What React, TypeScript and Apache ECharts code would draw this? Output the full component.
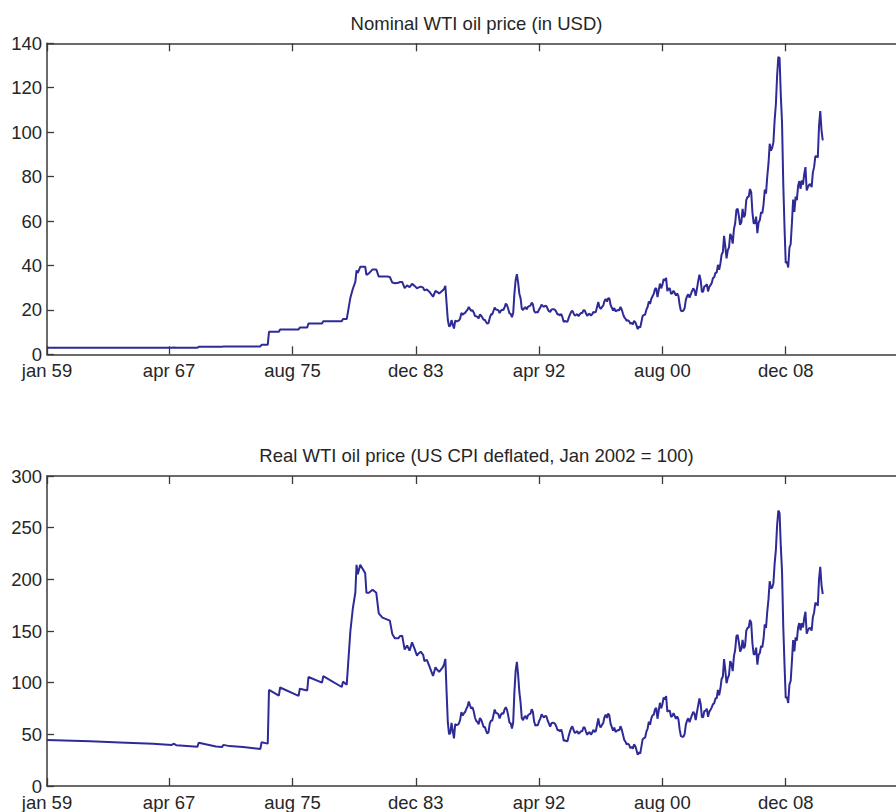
import React, { useEffect, useRef } from "react";
import * as echarts from "echarts";

// x = months since jan 1959 (0 = jan 59)
const tickMonths = [0, 99, 199, 299, 399, 499, 599];
const tickLabels = ["jan 59", "apr 67", "aug 75", "dec 83", "apr 92", "aug 00", "dec 08"];

const nominalTicks = [0, 20, 40, 60, 80, 100, 120, 140];
const realTicks = [0, 50, 100, 150, 200, 250, 300];

// 1959 – 1985 (posted prices, step changes)
const earlyMonths = [
  0, 35, 59, 86, 101, 103, 105, 122, 123, 137, 142, 143, 148, 159, 173, 174, 179, 180, 188, 189,
  204, 205, 211, 212, 223, 224, 239, 240, 243, 244, 246, 248, 250, 251, 252, 254, 256, 258, 259,
  261, 264, 267, 269, 272, 276, 278, 280, 282, 285, 286, 288, 290, 292, 294, 296, 298, 300, 301,
  303, 305, 306, 308, 310, 313, 315, 316, 318, 321, 322, 323,
];
const earlyNominal = [
  2.97, 2.97, 2.97, 2.97, 2.97, 3.07, 2.97, 2.97, 3.35, 3.35, 3.35, 3.56, 3.56, 3.56, 3.56, 4.31, 4.31, 10.11, 10.11, 11.16,
  11.16, 12.1, 12.1, 13.9, 13.9, 14.85, 14.85, 15.85, 15.85, 19.0, 25.5, 29.5, 32.6, 37.8, 36.6, 39.4, 39.4, 39.4, 35.8,
  36.4, 38.2, 38.2, 35.0, 35.0, 35.0, 34.8, 32.3, 32.0, 32.2, 32.5, 32.6, 29.8, 31.0, 30.2, 31.7, 30.8, 29.7, 30.0,
  30.5, 30.0, 28.8, 29.2, 28.2, 25.9, 28.5, 28.2, 27.4, 28.8, 29.5, 30.8,
];
const earlyReal = [
  44.6, 43.3, 42.2, 40.8, 39.7, 40.9, 39.4, 38.0, 41.8, 38.3, 37.7, 39.8, 38.6, 37.7, 35.9, 42.3, 41.0, 93.0, 87.5, 95.3,
  87.2, 94.2, 92.5, 105.5, 100.0, 106.3, 95.8, 101.0, 98.0, 115.0, 150.0, 172.0, 187.0, 214.0, 205.0, 214.0, 210.0, 206.0, 187.0,
  187.0, 190.0, 187.0, 167.0, 163.0, 161.0, 160.0, 147.0, 143.0, 143.0, 145.0, 145.5, 132.0, 136.0, 131.0, 139.0, 133.0, 126.0, 128.0,
  130.0, 127.0, 121.0, 122.0, 116.0, 106.5, 115.0, 113.0, 110.5, 115.0, 118.0, 123.0,
];

// monthly, jan 1986 – jun 2011
const monthlyStart = 324;
const monthlyNominal = [
  22.93, 15.46, 12.61, 12.84, 15.38, 13.43, 11.59, 15.10, 14.87, 14.90, 15.22, 16.11,
  18.65, 17.75, 18.30, 18.68, 19.44, 20.07, 21.34, 20.31, 19.53, 19.86, 18.85, 17.28,
  17.13, 16.80, 16.20, 17.86, 17.42, 16.53, 15.50, 15.52, 14.54, 13.77, 14.14, 16.38,
  18.02, 17.94, 19.48, 21.07, 20.12, 20.05, 19.78, 18.58, 19.59, 20.10, 19.86, 21.10,
  22.86, 22.11, 20.39, 18.43, 18.20, 16.70, 18.45, 27.31, 33.51, 36.04, 32.33, 27.28,
  25.23, 20.48, 19.90, 20.83, 21.23, 20.19, 21.40, 21.69, 21.89, 23.23, 22.46, 19.50,
  18.79, 19.01, 18.92, 20.23, 20.98, 22.39, 21.78, 21.34, 21.88, 21.69, 20.34, 19.41,
  19.03, 20.09, 20.32, 20.25, 19.95, 19.09, 17.89, 18.01, 17.50, 18.15, 16.61, 14.52,
  15.03, 14.78, 14.68, 16.42, 17.89, 19.06, 19.66, 18.38, 17.45, 17.72, 18.07, 17.16,
  18.04, 18.57, 18.54, 19.90, 19.74, 18.45, 17.33, 18.02, 18.23, 17.43, 17.99, 19.03,
  18.85, 19.09, 21.33, 23.50, 21.17, 20.42, 21.30, 21.90, 23.97, 24.88, 23.71, 25.23,
  25.13, 22.18, 20.97, 19.70, 20.82, 19.26, 19.66, 19.95, 19.80, 21.33, 20.19, 18.33,
  16.72, 16.06, 15.12, 15.35, 14.91, 13.72, 14.17, 13.47, 15.03, 14.46, 13.00, 11.35,
  12.52, 12.01, 14.68, 17.31, 17.72, 17.92, 20.10, 21.28, 23.80, 22.69, 25.00, 26.10,
  27.26, 29.37, 29.84, 25.72, 28.79, 31.82, 29.70, 31.26, 33.88, 33.11, 34.42, 28.44,
  29.59, 29.61, 27.24, 27.49, 28.63, 27.60, 26.43, 27.37, 26.20, 22.17, 19.64, 19.39,
  19.71, 20.72, 24.53, 26.18, 27.04, 25.52, 26.97, 28.39, 29.66, 28.84, 26.35, 29.46,
  32.95, 35.83, 33.51, 28.17, 28.11, 30.66, 30.75, 31.57, 28.31, 30.34, 31.11, 32.13,
  34.31, 34.69, 36.74, 36.75, 40.28, 38.03, 40.78, 44.90, 45.94, 53.28, 48.47, 43.15,
  46.84, 48.15, 54.19, 52.98, 49.83, 56.35, 59.00, 64.99, 65.59, 62.26, 58.32, 59.41,
  65.49, 61.63, 62.69, 69.44, 70.84, 70.95, 74.41, 73.04, 63.80, 58.89, 59.08, 61.96,
  54.51, 59.28, 60.44, 63.98, 63.46, 67.49, 74.12, 72.36, 79.92, 85.80, 94.77, 91.69,
  92.97, 95.39, 105.45, 112.58, 125.40, 133.88, 133.37, 116.67, 104.11, 76.61, 57.31, 41.12,
  41.71, 39.09, 47.94, 49.65, 59.03, 69.64, 64.15, 71.05, 69.41, 75.72, 77.99, 74.47,
  78.33, 76.39, 81.20, 84.29, 73.74, 75.34, 76.32, 76.60, 75.24, 81.89, 84.25, 89.15,
  89.17, 88.58, 102.86, 109.53, 100.90, 96.26,
];
const monthlyReal = [
  91.1, 61.5, 50.1, 51.0, 61.1, 53.4, 46.1, 60.0, 59.1, 59.2, 60.5, 64.0,
  71.5, 68.1, 70.2, 71.6, 74.6, 77.0, 81.8, 77.9, 74.9, 76.2, 72.3, 66.3,
  63.1, 61.9, 59.7, 65.8, 64.2, 60.9, 57.1, 57.2, 53.6, 50.7, 52.1, 60.3,
  63.3, 63.0, 68.5, 74.0, 70.7, 70.5, 69.5, 65.3, 68.8, 70.6, 69.8, 74.1,
  76.2, 73.7, 68.0, 61.4, 60.7, 55.7, 61.5, 91.1, 111.7, 120.2, 107.8, 91.0,
  80.7, 65.5, 63.7, 66.6, 67.9, 64.6, 68.5, 69.4, 70.0, 74.3, 71.8, 62.4,
  58.3, 59.0, 58.7, 62.8, 65.1, 69.5, 67.6, 66.3, 67.9, 67.3, 63.2, 60.3,
  57.4, 60.6, 61.3, 61.1, 60.1, 57.6, 53.9, 54.3, 52.8, 54.7, 50.1, 43.8,
  44.2, 43.5, 43.2, 48.3, 52.6, 56.0, 57.8, 54.0, 51.3, 52.1, 53.1, 50.5,
  51.6, 53.1, 53.0, 56.9, 56.4, 52.7, 49.5, 51.5, 52.1, 49.8, 51.4, 54.4,
  52.3, 53.0, 59.2, 65.3, 58.8, 56.7, 59.2, 60.8, 66.6, 69.1, 65.8, 70.1,
  68.2, 60.2, 56.9, 53.5, 56.5, 52.3, 53.4, 54.2, 53.8, 57.9, 54.8, 49.8,
  44.7, 42.9, 40.4, 41.0, 39.9, 36.7, 37.9, 36.0, 40.2, 38.7, 34.7, 30.3,
  32.7, 31.4, 38.4, 45.3, 46.3, 46.9, 52.6, 55.6, 62.2, 59.3, 65.4, 68.3,
  69.0, 74.3, 75.5, 65.1, 72.8, 80.5, 75.1, 79.1, 85.7, 83.8, 87.1, 72.0,
  72.8, 72.8, 67.0, 67.6, 70.4, 67.9, 65.0, 67.3, 64.5, 54.5, 48.3, 47.7,
  47.7, 50.2, 59.4, 63.4, 65.5, 61.8, 65.3, 68.8, 71.8, 69.8, 63.8, 71.4,
  78.0, 84.8, 79.4, 66.7, 66.6, 72.6, 72.8, 74.8, 67.0, 71.8, 73.7, 76.1,
  79.2, 80.0, 84.8, 84.8, 92.9, 87.7, 94.1, 103.6, 106.0, 122.9, 111.8, 99.5,
  104.5, 107.4, 120.9, 118.2, 111.2, 125.7, 131.6, 145.0, 146.3, 138.9, 130.1, 132.5,
  141.5, 133.2, 135.5, 150.1, 153.1, 153.3, 160.8, 157.8, 137.9, 127.3, 127.7, 133.9,
  117.4, 127.0, 128.7, 135.6, 134.1, 142.5, 156.5, 152.9, 168.6, 180.6, 198.1, 191.3,
  191.9, 196.3, 215.2, 228.3, 252.3, 266.6, 264.1, 232.1, 207.3, 154.1, 117.5, 85.2,
  86.1, 80.3, 98.3, 101.6, 120.5, 141.2, 130.3, 143.9, 140.6, 153.3, 157.7, 150.7,
  157.5, 153.5, 162.6, 168.6, 147.4, 150.7, 152.6, 153.0, 150.3, 163.4, 168.0, 177.3,
  176.5, 174.4, 200.5, 212.2, 194.5, 185.8,
];

const titles = ["Nominal WTI oil price (in USD)", "Real WTI oil price (US CPI deflated, Jan 2002 = 100)"];

const FONT = "'Liberation Sans', Arial, Helvetica, sans-serif";
const TEXT = "#262626";
const AXIS = "#3a3a3a";
const LINE = "#2E2A96";
const FS = 18.5;

function build(early: number[], earlyV: number[], monthly: number[]) {
  const out: number[][] = early.map((m, i) => [m, earlyV[i]]);
  monthly.forEach((v, i) => out.push([monthlyStart + i, v]));
  return out;
}

export default function App() {
  const ref = useRef<HTMLDivElement>(null);
  useEffect(() => {
    if (!ref.current) return;
    const chart = echarts.init(ref.current, undefined, { renderer: "svg" });
    const gridLeft = 47;
    const gridWidth = 863.3;
    const grids = [
      { left: gridLeft, top: 43.3, width: gridWidth, height: 311 },
      { left: gridLeft, top: 476, width: gridWidth, height: 312.3 },
    ];
    const xAxisBase = (gridIndex: number, position: "top" | "bottom") => ({
      type: "value",
      gridIndex,
      position,
      min: 0,
      max: 700,
      splitLine: { show: false },
      axisLine: { show: true, onZero: false, lineStyle: { color: AXIS, width: 1.5 } },
      axisTick: {
        show: true,
        inside: true,
        length: 8,
        customValues: tickMonths,
        lineStyle: { color: AXIS, width: 1.3 },
      },
      axisLabel: {
        show: position === "bottom",
        customValues: tickMonths,
        margin: 9,
        fontSize: FS,
        lineHeight: 15,
        fontFamily: FONT,
        color: TEXT,
        formatter: (v: number) => {
          const i = tickMonths.indexOf(Math.round(v));
          return i >= 0 ? tickLabels[i] : "";
        },
      },
    });
    const yAxisBase = (gridIndex: number, ticks: number[]) => ({
      type: "value",
      gridIndex,
      min: ticks[0],
      max: ticks[ticks.length - 1],
      interval: ticks[1] - ticks[0],
      splitLine: { show: false },
      axisLine: { show: true, lineStyle: { color: AXIS, width: 1.5 } },
      axisTick: { show: true, inside: true, length: 7, lineStyle: { color: AXIS, width: 1.3 } },
      axisLabel: { margin: 5, fontSize: FS, lineHeight: 14, fontFamily: FONT, color: TEXT },
    });
    chart.setOption({
      animation: false,
      backgroundColor: "#ffffff",
      grid: grids,
      xAxis: [xAxisBase(0, "bottom"), xAxisBase(0, "top"), xAxisBase(1, "bottom"), xAxisBase(1, "top")],
      yAxis: [yAxisBase(0, nominalTicks), yAxisBase(1, realTicks)],
      graphic: [
        {
          type: "text",
          x: 476.5,
          y: 23.5,
          style: {
            text: titles[0],
            fontSize: FS,
            fontFamily: FONT,
            fill: TEXT,
            textAlign: "center",
            textVerticalAlign: "middle",
          },
        },
        {
          type: "text",
          x: 476.5,
          y: 455.5,
          style: {
            text: titles[1],
            fontSize: FS,
            fontFamily: FONT,
            fill: TEXT,
            textAlign: "center",
            textVerticalAlign: "middle",
          },
        },
      ],
      series: [
        {
          type: "line",
          xAxisIndex: 0,
          yAxisIndex: 0,
          data: build(earlyMonths, earlyNominal, monthlyNominal),
          showSymbol: false,
          lineStyle: { color: LINE, width: 2 },
          itemStyle: { color: LINE },
        },
        {
          type: "line",
          xAxisIndex: 2,
          yAxisIndex: 1,
          data: build(earlyMonths, earlyReal, monthlyReal),
          showSymbol: false,
          lineStyle: { color: LINE, width: 2 },
          itemStyle: { color: LINE },
        },
      ],
    });
    return () => chart.dispose();
  }, []);
  return (
    <div style={{ position: "absolute", left: 0, top: 0, width: 896, height: 812, overflow: "hidden", background: "#fff" }}>
      <div ref={ref} style={{ width: 1000, height: 812 }} />
    </div>
  );
}
